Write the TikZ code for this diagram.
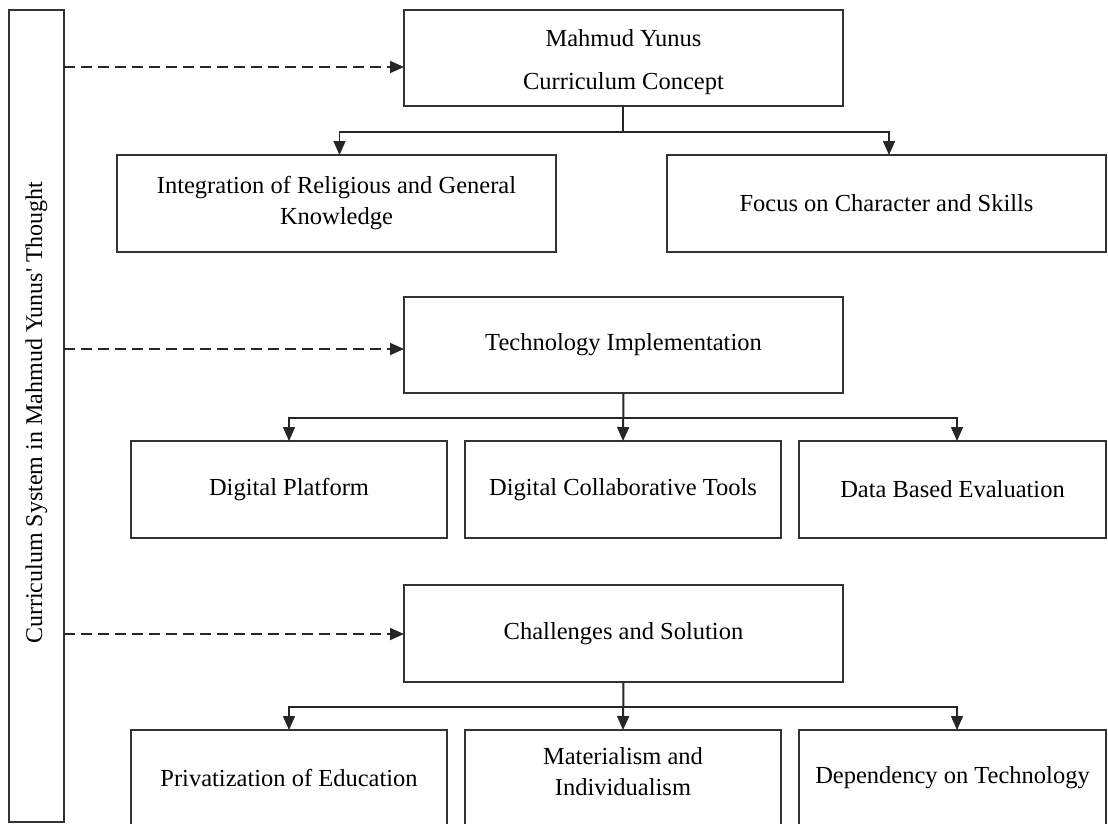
\documentclass[tikz,border=0pt]{standalone}
\usepackage{fontspec}
\setmainfont{Liberation Serif}
\usetikzlibrary{arrows.meta}
\tikzset{
  box/.style={draw=black!80, line width=1.4pt, rectangle, inner sep=0pt, outer sep=0pt, align=center,
    font=\fontsize{24.5}{31}\selectfont},
  boxtext/.style={align=center, inner sep=0pt, font=\fontsize{24.5}{31}\selectfont},
  conn/.style={draw=black!85, line width=1.5pt},
  arr/.style={conn, -{Triangle[width=12pt,length=14pt]}},
  dasharr/.style={draw=black!85, line width=1.8pt, dash pattern=on 11pt off 6pt, -{Triangle[width=12pt,length=14pt]}}
}
\begin{document}
\begin{tikzpicture}[x=1pt,y=-1pt]
\useasboundingbox (0,0) rectangle (1108,823);
\clip (0,0) rectangle (1108,823);
% left bar
\node[box, minimum width=55pt, minimum height=812pt] (bar) at (36.5,416) {};
\node[font=\fontsize{24}{31}\selectfont, rotate=90] (bartext) at (36.5,412.5) {Curriculum System in Mahmud Yunus\textquotesingle{} Thought};
% level 1
\node[box, minimum width=439pt, minimum height=96pt] (top) at (623.5,58) {};
\node[boxtext] (toptext) at (623.5,62) {Mahmud Yunus\\[12pt]Curriculum Concept};
\node[box, minimum width=439pt, minimum height=97pt] (integ) at (336.5,203.5) {Integration of Religious and General\\Knowledge};
\node[box, minimum width=439pt, minimum height=97pt] (focus) at (886.5,203.5) {Focus on Character and Skills};
% level 2
\node[box, minimum width=439pt, minimum height=96pt] (tech) at (623.5,345) {Technology Implementation};
\node[box, minimum width=316pt, minimum height=97pt] (plat) at (289,489.5) {Digital Platform};
\node[box, minimum width=316pt, minimum height=97pt] (collab) at (623,489.5) {Digital Collaborative Tools};
\node[box, minimum width=307pt, minimum height=97pt] (data) at (952.5,489.5) {Data Based Evaluation};
% level 3
\node[box, minimum width=439pt, minimum height=97pt] (chal) at (623.5,633.5) {Challenges and Solution};
\node[box, minimum width=316pt, minimum height=96pt] (priv) at (289,778) {Privatization of Education};
\node[box, minimum width=316pt, minimum height=96pt] (mat) at (623,778) {};
\node[boxtext] (mattext) at (623,772) {Materialism and\\Individualism};
\node[box, minimum width=307pt, minimum height=96pt] (dep) at (952.5,778) {Dependency on Technology};
% junctions
\coordinate (j1) at (623,132);
\coordinate (j2) at (623.5,418);
\coordinate (j3) at (623.5,707);
% level 1 connectors
\draw[conn, line width=1.8pt] (top.south -| j1) -- (j1);
\draw[arr] (j1) -| ([xshift=3pt]integ.north);
\draw[arr] (j1) -| ([xshift=2.5pt]focus.north);
% level 2 connectors
\draw[arr, line width=2pt] (tech.south) -- (collab.north);
\draw[arr] (j2) -| (plat.north);
\draw[arr] (j2) -| ([xshift=4.5pt]data.north);
% level 3 connectors
\draw[arr, line width=2pt] (chal.south) -- (mat.north);
\draw[arr] (j3) -| (priv.north);
\draw[arr] (j3) -| ([xshift=4.5pt]dep.north);
% dashed arrows
\coordinate (d1) at (404,67);
\coordinate (d2) at (404,349);
\coordinate (d3) at (404,634);
\draw[dasharr] (bar.east |- d1) -- (d1);
\draw[dasharr] (bar.east |- d2) -- (d2);
\draw[dasharr] (bar.east |- d3) -- (d3);
\end{tikzpicture}
\end{document}
